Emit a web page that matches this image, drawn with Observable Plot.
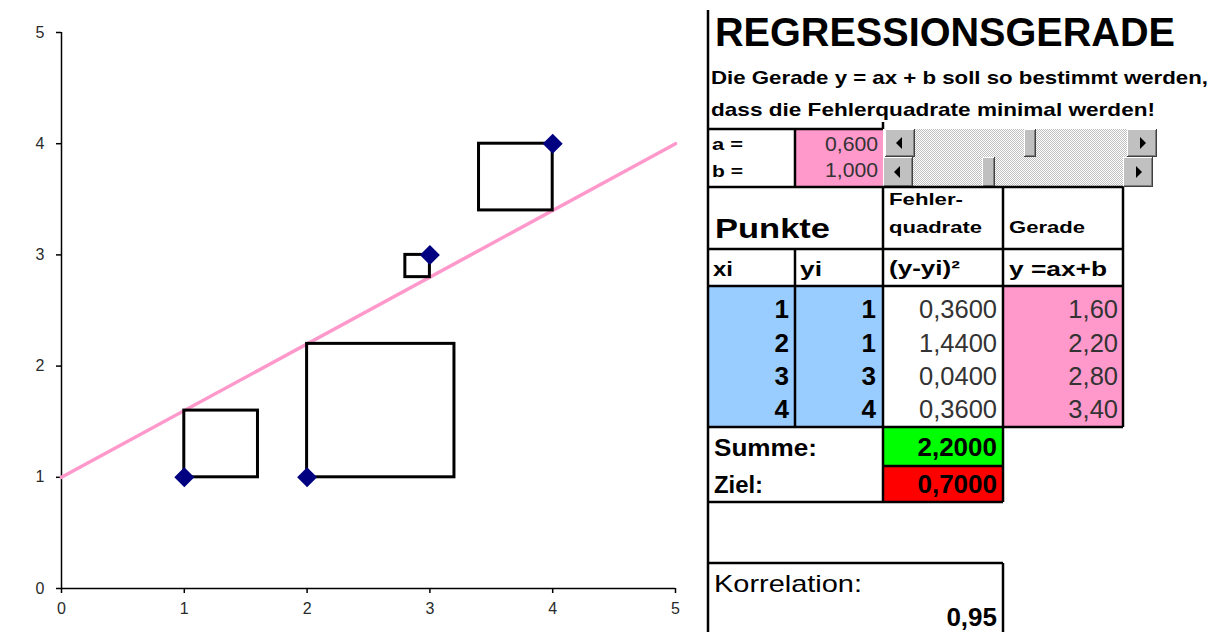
<!DOCTYPE html>
<html>
<head>
<meta charset="utf-8">
<script src="https://cdn.jsdelivr.net/npm/d3@7"></script>
<script src="https://cdn.jsdelivr.net/npm/@observablehq/plot@0.6"></script>
<style>
  html, body { margin: 0; padding: 0; background: #fff; }
  #root { position: relative; width: 1223px; height: 632px; background: #fff; overflow: hidden; }
  #root svg.panel { position: absolute; left: 0; top: 0; }
  #chartwrap { position: absolute; left: 0; top: 0; width: 700px; height: 632px; }
  #chartwrap svg { display: block; }
  #chartwrap text { font-size: 16px !important; fill: #2a2a2a; }
</style>
</head>
<body>
<div id="root"><div id="chartwrap"></div></div>
<script>
// ---------------- data ----------------
const xi = [1, 2, 3, 4];
const yi = [1, 1, 3, 4];
const fehlerquadrate = [0.36, 1.44, 0.04, 0.36];
const gerade = [1.60, 2.20, 2.80, 3.40];
const paramA = 0.6;
const paramB = 1.0;
const summe = 2.2;
const ziel = 0.7;
const korrelation = 0.95;
const axisTicks = [0, 1, 2, 3, 4, 5];
const lineX = [0, 5];
const lineY = [1, 4];

const title = "REGRESSIONSGERADE";
const subtitle1 = "Die Gerade y = ax + b soll so bestimmt werden,";
const subtitle2 = "dass die Fehlerquadrate minimal werden!";

// ---------------- chart ----------------
const points = xi.map((x, i) => ({x, y: yi[i]}));
const squares = xi.map((x, i) => ({x1: x, x2: x + (gerade[i] - yi[i]), y1: yi[i], y2: gerade[i]}));
const lineData = lineX.map((x, i) => ({x, y: lineY[i]}));

const chart = Plot.plot({
  width: 700,
  height: 632,
  marginLeft: 61,
  marginRight: 25,
  marginTop: 32,
  marginBottom: 44,
  style: {fontFamily: "'Liberation Sans', Arial, sans-serif", fontSize: "16px", color: "#000", background: "transparent"},
  x: {domain: [0, 5]},
  y: {domain: [0, 5]},
  marks: [
    Plot.axisX({ticks: axisTicks, tickFormat: d => String(d), tickSize: 5, tickPadding: 9, label: null, strokeWidth: 1.5, fontSize: 16}),
    Plot.axisY({ticks: axisTicks, tickFormat: d => String(d), tickSize: 5, tickPadding: 12, label: null, strokeWidth: 1.5, fontSize: 16}),
    Plot.ruleX([0], {stroke: "#000", strokeWidth: 1.5}),
    Plot.ruleY([0], {stroke: "#000", strokeWidth: 1.5}),
    Plot.line(lineData, {x: "x", y: "y", stroke: "#ff99cc", strokeWidth: 3.5}),
    Plot.rect(squares, {x1: "x1", x2: "x2", y1: "y1", y2: "y2", fill: "none", stroke: "#000", strokeWidth: 3}),
    Plot.dot(points, {x: "x", y: "y", symbol: "diamond2", r: 9, fill: "#000080", stroke: "none"})
  ]
});
document.getElementById("chartwrap").appendChild(chart);

// ---------------- spreadsheet panel ----------------
const fmt = (v, d) => v.toFixed(d).replace(".", ",");
const svg = d3.select("#root").append("svg")
  .attr("class", "panel")
  .attr("width", 1223).attr("height", 632)
  .style("font-family", "'Liberation Sans', Arial, sans-serif");

const defs = svg.append("defs");
const pat = defs.append("pattern").attr("id", "dither").attr("width", 2).attr("height", 2).attr("patternUnits", "userSpaceOnUse");
pat.append("rect").attr("width", 2).attr("height", 2).attr("fill", "#ffffff");
pat.append("rect").attr("width", 1).attr("height", 1).attr("fill", "#c0c0c0");
pat.append("rect").attr("x", 1).attr("y", 1).attr("width", 1).attr("height", 1).attr("fill", "#c0c0c0");

function box(x1, y1, x2, y2, fill) {
  svg.append("rect").attr("x", x1).attr("y", y1).attr("width", x2 - x1).attr("height", y2 - y1).attr("fill", fill);
}
function seg(x1, y1, x2, y2, stroke = "#000", w = 2.5) {
  svg.append("line").attr("x1", x1).attr("y1", y1).attr("x2", x2).attr("y2", y2)
    .attr("stroke", stroke).attr("stroke-width", w);
}
function txt(s, x, y, o = {}) {
  const t = svg.append("text").attr("x", x).attr("y", y).text(s)
    .attr("font-size", o.size || 20)
    .attr("font-weight", o.bold ? "bold" : "normal")
    .attr("text-anchor", o.anchor || "start")
    .attr("fill", o.fill || "#000");
  if (o.len) t.attr("textLength", o.len).attr("lengthAdjust", "spacingAndGlyphs");
  return t;
}
function bevel(x1, y1, x2, y2) {
  box(x1, y1, x2, y2, "#c0c0c0");
  seg(x1 + 0.5, y1 + 0.5, x2 - 1, y1 + 0.5, "#ffffff", 1);
  seg(x1 + 0.5, y1 + 0.5, x1 + 0.5, y2 - 1, "#ffffff", 1);
  seg(x1 + 1, y2 - 1.5, x2 - 1, y2 - 1.5, "#808080", 1);
  seg(x2 - 1.5, y1 + 1, x2 - 1.5, y2 - 1, "#808080", 1);
  seg(x1, y2 - 0.5, x2, y2 - 0.5, "#404040", 1);
  seg(x2 - 0.5, y1, x2 - 0.5, y2, "#404040", 1);
}
function scrollbar(x1, y1, x2, y2, t1, t2) {
  box(x1, y1, x2, y2, "url(#dither)");
  bevel(x1, y1, x1 + 30, y2);
  bevel(x2 - 30, y1, x2, y2);
  bevel(t1, y1, t2, y2);
  const cy = (y1 + y2) / 2;
  svg.append("path").attr("d", `M${x1 + 11},${cy} L${x1 + 17},${cy - 6} L${x1 + 17},${cy + 6} Z`).attr("fill", "#000");
  svg.append("path").attr("d", `M${x2 - 11},${cy} L${x2 - 17},${cy - 6} L${x2 - 17},${cy + 6} Z`).attr("fill", "#000");
}

// cell fills
box(795, 129, 883, 187, "#ff99cc");
box(708, 286, 883, 427, "#99ccff");
box(1003, 286, 1123, 427, "#ff99cc");
box(883, 427, 1003, 466, "#00ff00");
box(883, 466, 1003, 502, "#ff0000");

// scrollbars
scrollbar(885, 129, 1157, 157, 1024, 1036);
scrollbar(883, 157, 1153, 187, 982, 995);

// borders
seg(708, 10, 708, 632);
seg(708, 129, 883, 129);
seg(795, 129, 795, 187);
seg(883, 122, 883, 129);
seg(883, 187, 883, 502);
seg(708, 187, 1123, 187);
seg(1003, 187, 1003, 502);
seg(1123, 187, 1123, 427);
seg(708, 249, 1123, 249);
seg(795, 249, 795, 427);
seg(708, 286, 1123, 286);
seg(708, 427, 1123, 427);
seg(883, 466, 1003, 466);
seg(708, 502, 1003, 502);
seg(708, 563, 1003, 563);
seg(1003, 563, 1003, 632);

// title & subtitle
txt(title, 715, 46, {size: 40, bold: true, len: 460});
txt(subtitle1, 711, 84, {size: 19, bold: true, len: 497});
txt(subtitle2, 711, 116, {size: 19, bold: true, len: 444});

// parameters
txt("a =", 712, 150, {size: 17, bold: true, len: 31});
txt("b =", 712, 177, {size: 17, bold: true, len: 31});
txt(fmt(paramA, 3), 878, 151, {size: 21, anchor: "end", fill: "#333", len: 53});
txt(fmt(paramB, 3), 878, 177, {size: 21, anchor: "end", fill: "#333", len: 53});

// headers
txt("Punkte", 715, 238, {size: 28, bold: true, len: 115});
txt("Fehler-", 889, 205, {size: 17, bold: true, len: 74});
txt("quadrate", 889, 233, {size: 17, bold: true, len: 93});
txt("Gerade", 1009, 233, {size: 17, bold: true, len: 76});
txt("xi", 713, 276, {size: 21, bold: true, len: 20});
txt("yi", 800, 276, {size: 21, bold: true, len: 22});
txt("(y-yi)²", 889, 275, {size: 20, bold: true, len: 71});
txt("y =ax+b", 1009, 276, {size: 21, bold: true, len: 98});

// data rows
const baselines = [318, 352, 385, 418];
xi.forEach((v, i) => {
  const y = baselines[i];
  txt(String(v), 789, y, {size: 26, bold: true, anchor: "end"});
  txt(String(yi[i]), 876, y, {size: 26, bold: true, anchor: "end"});
  txt(fmt(fehlerquadrate[i], 4), 997, y, {size: 25.5, anchor: "end", fill: "#333"});
  txt(fmt(gerade[i], 2), 1118, y, {size: 25.5, anchor: "end", fill: "#333"});
});

// totals
txt("Summe:", 714, 456, {size: 24, bold: true, len: 103});
txt("Ziel:", 714, 493, {size: 24, bold: true, len: 49});
txt(fmt(summe, 4), 997, 456, {size: 26, bold: true, anchor: "end"});
txt(fmt(ziel, 4), 997, 493, {size: 26, bold: true, anchor: "end"});

// correlation
txt("Korrelation:", 714, 592, {size: 24, len: 148});
txt(fmt(korrelation, 2), 997, 626, {size: 26, bold: true, anchor: "end"});
</script>
</body>
</html>
